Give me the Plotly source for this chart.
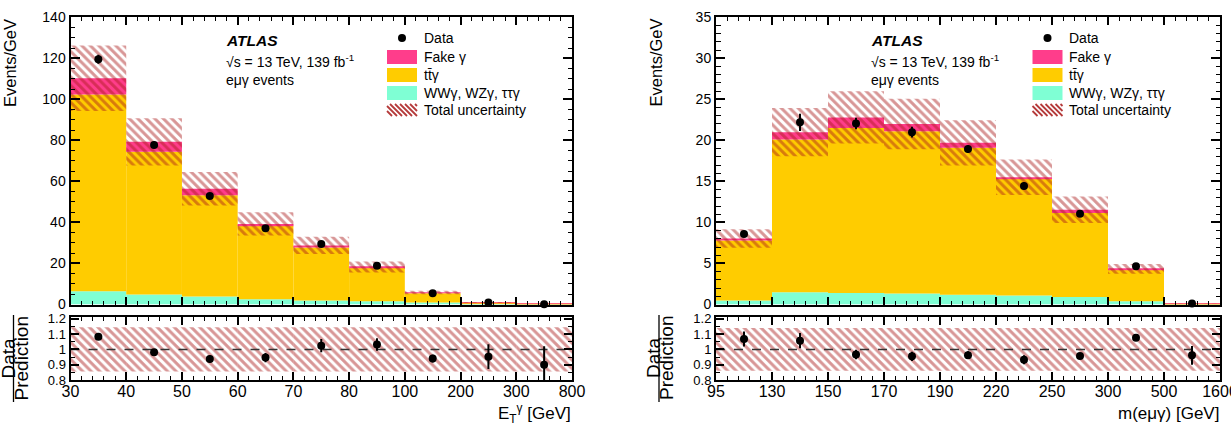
import plotly.graph_objects as go

W, H = 1231, 429

# ---------------- data: left panel (photon ET) ----------------
et_edges = ["30", "40", "50", "60", "70", "80", "100", "200", "300", "800"]
et_other = [6.5, 4.9, 3.9, 2.6, 2.0, 1.6, 1.0, 0.3, 0.03]
et_ttg = [95.9, 69.5, 49.4, 35.8, 25.8, 16.2, 4.5, 0.7, 0.08]
et_fake = [7.9, 4.9, 3.1, 0.9, 1.0, 0.5, 0.35, 0.05, 0.01]
et_data = [119.5, 77.8, 52.9, 37.2, 29.5, 18.9, 5.5, 1.0, 0.108]
et_data_err = [2.2, 1.6, 1.4, 1.2, 1.25, 0.75, 0.15, 0.085, 0.0145]
et_rel_unc = [0.145, 0.145, 0.145, 0.145, 0.145, 0.145, 0.145, 0.145, 0.145]

# ---------------- data: right panel m(e mu gamma) ----------------
m_edges = ["95", "130", "150", "170", "190", "220", "250", "300", "500", "1600"]
m_other = [0.5, 1.5, 1.4, 1.35, 1.2, 1.1, 0.9, 0.4, 0.02]
m_ttg = [7.3, 18.6, 20.1, 19.75, 17.9, 14.2, 10.25, 3.8, 0.1]
m_fake = [0.25, 0.9, 1.3, 0.9, 0.6, 0.2, 0.4, 0.14, 0.01]
m_data = [8.6, 22.2, 22.05, 21.0, 18.95, 14.45, 11.05, 4.67, 0.125]
m_data_err = [0.4, 1.05, 0.7, 0.66, 0.5, 0.45, 0.23, 0.09, 0.008]
m_rel_unc = [0.14, 0.14, 0.14, 0.14, 0.14, 0.14, 0.14, 0.14, 0.14]

legend_labels = ["Data", "Fake γ", "tt̄γ", "WWγ, WZγ, ττγ", "Total uncertainty"]

C_FAKE = "#ff3d8b"
C_TTG = "#ffcc00"
C_OTHER = "#7fffd4"
C_HATCH = "rgba(170,25,25,0.92)"
FONT = "Liberation Sans"


def fx(px):
    return px / W


def fy(py):
    return 1 - py / H


fig = go.Figure()

hatch = dict(shape="\\", fillmode="overlay", bgcolor="rgba(0,0,0,0)",
             fgcolor=C_HATCH, size=6, solidity=0.5)


def add_panel(xm, ym, xr, yr, other, ttg, fake, data, derr, rel):
    n = len(other)
    xc = [i + 0.5 for i in range(n)]
    base_tt = other
    base_fake = [o + t for o, t in zip(other, ttg)]
    pred = [b + f for b, f in zip(base_fake, fake)]
    unc = [p * u for p, u in zip(pred, rel)]
    common = dict(width=1, marker_line_width=0, showlegend=False, hoverinfo="skip")
    fig.add_trace(go.Bar(x=xc, y=other, base=[0] * n, marker_color=C_OTHER,
                         xaxis=xm, yaxis=ym, **common))
    fig.add_trace(go.Bar(x=xc, y=ttg, base=base_tt, marker_color=C_TTG,
                         xaxis=xm, yaxis=ym, **common))
    fig.add_trace(go.Bar(x=xc, y=fake, base=base_fake, marker_color=C_FAKE,
                         xaxis=xm, yaxis=ym, **common))
    fig.add_trace(go.Bar(x=xc, y=[2 * u for u in unc],
                         base=[p - u for p, u in zip(pred, unc)],
                         marker=dict(color="rgba(0,0,0,0)", pattern=hatch),
                         xaxis=xm, yaxis=ym, **common))
    fig.add_trace(go.Scatter(x=xc, y=data, mode="markers",
                             marker=dict(color="black", size=8),
                             error_y=dict(type="data", array=derr, width=0,
                                          thickness=2, color="black"),
                             cliponaxis=False, showlegend=False,
                             xaxis=xm, yaxis=ym))
    # ratio panel
    fig.add_trace(go.Bar(x=xc, y=[2 * u for u in rel], base=[1 - u for u in rel],
                         marker=dict(color="rgba(0,0,0,0)", pattern=hatch),
                         xaxis=xr, yaxis=yr, **common))
    fig.add_trace(go.Scatter(x=[0, n], y=[1, 1], mode="lines",
                             line=dict(color="#333333", width=1.5, dash="dash"),
                             showlegend=False, hoverinfo="skip",
                             xaxis=xr, yaxis=yr))
    ratio = [d / p for d, p in zip(data, pred)]
    rerr = [e / p for e, p in zip(derr, pred)]
    fig.add_trace(go.Scatter(x=xc, y=ratio, mode="markers",
                             marker=dict(color="black", size=8),
                             error_y=dict(type="data", array=rerr, width=0,
                                          thickness=2, color="black"),
                             showlegend=False, xaxis=xr, yaxis=yr))


add_panel("x", "y", "x2", "y2", et_other, et_ttg, et_fake, et_data, et_data_err, et_rel_unc)
add_panel("x3", "y3", "x4", "y4", m_other, m_ttg, m_fake, m_data, m_data_err, m_rel_unc)

LEFT = (70.5, 572.0)
RIGHT = (716.0, 1220.0)
MAIN_Y = (17.3, 304.5)
RAT_Y = (316.7, 380.0)

base_axis = dict(showline=True, linecolor="black", linewidth=2, mirror="allticks",
                 ticks="inside", tickcolor="black", tickwidth=1.5,
                 showgrid=False, zeroline=False, automargin=False,
                 ticklabeloverflow="allow",
                 tickfont=dict(family=FONT, size=14, color="black"))


def xaxis_def(dom, edges, labels, anchor):
    d = dict(base_axis)
    d.update(domain=[fx(dom[0]), fx(dom[1])], range=[0, len(edges) - 1],
             tickmode="array", tickvals=list(range(len(edges))), ticktext=edges,
             ticklen=8, anchor=anchor, showticklabels=labels,
             ticklabelstandoff=-4,
             tickfont=dict(family=FONT, size=16, color="black"),
             minor=dict(ticks="inside", ticklen=4, tickcolor="black", tickwidth=1.2,
                        tickmode="linear", tick0=0, dtick=0.2))
    return d


def yaxis_main(rng, dt, mdt, anchor):
    d = dict(base_axis)
    d.update(domain=[fy(MAIN_Y[1]), fy(MAIN_Y[0])], range=rng, dtick=dt, tick0=0,
             ticklen=9, anchor=anchor,
             minor=dict(ticks="inside", ticklen=4.5, tickcolor="black", tickwidth=1.2,
                        tick0=0, dtick=mdt))
    return d


def yaxis_ratio(anchor):
    d = dict(base_axis)
    d.update(domain=[fy(RAT_Y[1]), fy(RAT_Y[0])], range=[0.8, 1.214],
             tickmode="array", tickvals=[0.8, 0.9, 1.0, 1.1, 1.2],
             ticktext=["0.8", "0.9", "1", "1.1", "1.2"], ticklen=8, anchor=anchor,
             tickfont=dict(family=FONT, size=13, color="black"),
             minor=dict(ticks="inside", ticklen=4, tickcolor="black", tickwidth=1.2,
                        tickmode="linear", tick0=0.8, dtick=0.05))
    return d


fig.update_layout(
    width=W, height=H, margin=dict(l=0, r=0, t=0, b=0, autoexpand=False),
    paper_bgcolor="white", plot_bgcolor="white",
    barmode="overlay", showlegend=False,
    font=dict(family=FONT, color="black"),
    xaxis=xaxis_def(LEFT, et_edges, False, "y"),
    yaxis=yaxis_main([0, 140], 20, 5, "x"),
    xaxis2=xaxis_def(LEFT, et_edges, True, "y2"),
    yaxis2=yaxis_ratio("x2"),
    xaxis3=xaxis_def(RIGHT, m_edges, False, "y3"),
    yaxis3=yaxis_main([0, 35], 5, 1, "x3"),
    xaxis4=xaxis_def(RIGHT, m_edges, True, "y4"),
    yaxis4=yaxis_ratio("x4"),
)

annotations = []
shapes = []


def txt(x, y, s, size=14, xanchor="left", yanchor="middle", angle=0):
    annotations.append(dict(x=fx(x), y=fy(y), xref="paper", yref="paper", text=s,
                            showarrow=False, xanchor=xanchor, yanchor=yanchor,
                            textangle=angle,
                            font=dict(family=FONT, size=size, color="black")))


def hatch_swatch(x0, x1, top, bot, step=5.0):
    h = bot - top
    a = x0 - h
    while a < x1:
        t0 = max(0.0, x0 - a)
        t1 = min(h, x1 - a)
        if t1 > t0:
            shapes.append(dict(type="line", xref="paper", yref="paper",
                               x0=fx(a + t0), y0=fy(top + t0),
                               x1=fx(a + t1), y1=fy(top + t1),
                               line=dict(color="#b53a3a", width=1.8)))
        a += step


for (ax0, ax1), xlab in ((LEFT, "E<sub>T</sub><sup>γ</sup> [GeV]"),
                         (RIGHT, "m(eμγ) [GeV]")):
    # y titles
    txt(ax0 - 60.5, 63, "Events/GeV", size=16.5, xanchor="center", angle=-90)
    txt(ax0 - 63, 358, "Data", size=19, xanchor="center", angle=-90)
    txt(ax0 - 50, 358, "Prediction", size=19, xanchor="center", angle=-90)
    shapes.append(dict(type="line", xref="paper", yref="paper",
                       x0=fx(ax0 - 57), x1=fx(ax0 - 57), y0=fy(315), y1=fy(402),
                       line=dict(color="black", width=1.3)))
    # x title
    txt(ax1 + 1, 413, xlab, size=17, xanchor="right")
    # labels
    txt(ax0 + 153, 41, "<b><i>ATLAS</i></b>", size=15.5)
    txt(ax0 + 153, 61, "√s = 13 TeV, 139 fb<sup>-1</sup>", size=14)
    txt(ax0 + 153, 80, "eμγ events", size=14)
    # legend
    lx = ax0 + 351
    sx0, sx1 = ax0 + 316.5, ax0 + 346.5
    rows = [38, 57, 75, 93, 110]
    for lab, ry in zip(legend_labels, rows):
        txt(lx, ry, lab, size=14)
    cx = ax0 + 331.5
    shapes.append(dict(type="circle", xref="paper", yref="paper",
                       x0=fx(cx - 4), x1=fx(cx + 4), y0=fy(38 - 4), y1=fy(38 + 4),
                       fillcolor="black", line=dict(width=0)))
    for col, ry in zip([C_FAKE, C_TTG, C_OTHER], rows[1:4]):
        shapes.append(dict(type="rect", xref="paper", yref="paper",
                           x0=fx(sx0), x1=fx(sx1), y0=fy(ry - 7), y1=fy(ry + 7),
                           fillcolor=col, line=dict(width=0)))
    hatch_swatch(sx0, sx1, rows[4] - 6, rows[4] + 6)

fig.update_layout(annotations=annotations, shapes=shapes)
fig.write_html("out.html", config={"displayModeBar": False},
               post_script="document.body.style.margin='0';"
                           "document.body.style.overflow='hidden';")
